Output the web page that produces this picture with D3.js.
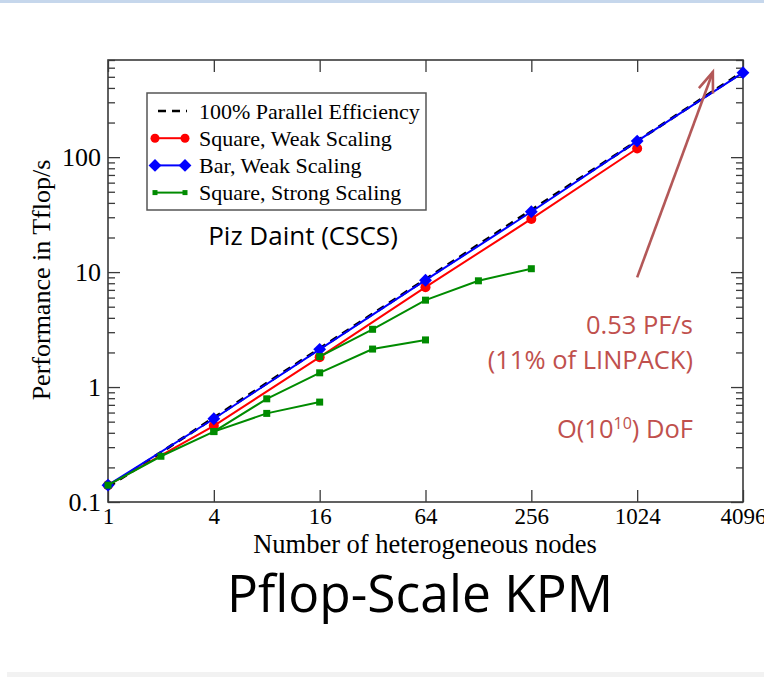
<!DOCTYPE html><head><meta charset = "utf-8">
<title>Pflop-Scale KPM</title>
<style type = "text/css">
* { box-sizing: border-box; }
body { margin: 0; background: white; overflow: hidden; }
svg { display: block; }
</style>
<script type="text/javascript" src="https://cdn.jsdelivr.net/npm/d3@7"></script>
</head><body>
<div class="sketch"></div>
<script type="text/javascript">

// node counts and performance in Tflop/s
var idealNodes = [1, 4096];
var idealPerf = [0.135, 553];

var weakNodes = [1, 4, 16, 64, 256, 1024, 4096];
var barWeakPerf = [0.14, 0.53, 2.13, 8.5, 33.5, 138, 543];
var squareWeakNodes = [1, 4, 16, 64, 256, 1024];
var squareWeakPerf = [0.14, 0.46, 1.82, 7.4, 29, 119];

var strongNodesA = [1, 2, 4, 8, 16];
var strongPerfA = [0.14, 0.25, 0.41, 0.59, 0.74];
var strongNodesB = [4, 8, 16, 32, 64];
var strongPerfB = [0.41, 0.79, 1.33, 2.14, 2.57];
var strongNodesC = [16, 32, 64, 128, 256];
var strongPerfC = [1.84, 3.18, 5.7, 8.4, 10.7];

var xTicks = [1, 4, 16, 64, 256, 1024, 4096];
var yTicks = [0.1, 1, 10, 100];
var yTickLabels = ["0.1", "1", "10", "100"];
var legendLabels = ["100% Parallel Efficiency", "Square, Weak Scaling", "Bar, Weak Scaling", "Square, Strong Scaling"];

// arrow pointing at the largest run (data coordinates)
var arrowFrom = [1024, 9];
var arrowTo = [2760, 550];

var W = 764, H = 677;
var margin = {left: 108, right: 21, top: 60, bottom: 175};
var serif = "'Liberation Serif', 'DejaVu Serif', serif";
var sans = "'Open Sans', 'Noto Sans', sans-serif";
var annotColor = "#c0504d";
var arrowColor = "#b35858";
var green = "#008b00";

var svg = d3.select("div.sketch").append("svg").attr("width", W).attr("height", H);

// thin slide decoration bars
svg.append("rect").attr("x", 0).attr("y", 0).attr("width", W).attr("height", 3).attr("fill", "#c6d7ec");
svg.append("rect").attr("x", 7).attr("y", 672).attr("width", W - 7).attr("height", 5).attr("fill", "#f2f2f2");

var xscale = d3.scaleLog().base(2).domain([1, 4096]).range([margin.left, W - margin.right]);
var yscale = d3.scaleLog().domain([0.1, 700]).range([H - margin.bottom, margin.top]);
var x0 = xscale.range()[0], x1 = xscale.range()[1];
var y0 = yscale.range()[0], y1 = yscale.range()[1];

// minor y ticks
var minor = [];
[0.1, 1, 10, 100].forEach(function(d) {
  for (var k = 2; k <= 9; k++) { if (d * k <= 700) minor.push(d * k); }
});

var axisColor = "#3a3a3a";
function tickStyle(g) {
  g.select(".domain").remove();
  g.selectAll(".tick line").attr("stroke", axisColor).attr("stroke-width", 1.3);
}

// bottom axis
svg.append("g").attr("transform", "translate(0," + y0 + ")")
  .call(d3.axisBottom(xscale).tickValues(xTicks).tickFormat(d3.format("d")).tickSizeInner(-12).tickSizeOuter(0))
  .call(tickStyle)
  .call(function(g) {
    g.selectAll(".tick text").attr("font-family", serif).attr("font-size", 23).attr("fill", "#000").attr("dy", "0.71em").attr("y", 6);
  });
// top axis, ticks only
svg.append("g").attr("transform", "translate(0," + y1 + ")")
  .call(d3.axisTop(xscale).tickValues(xTicks).tickFormat("").tickSizeInner(-12).tickSizeOuter(0))
  .call(tickStyle);
// left axis
svg.append("g").attr("transform", "translate(" + x0 + ",0)")
  .call(d3.axisLeft(yscale).tickValues(yTicks).tickFormat(function(d, i) { return yTickLabels[i]; }).tickSizeInner(-12).tickSizeOuter(0))
  .call(tickStyle)
  .call(function(g) {
    g.selectAll(".tick text").attr("font-family", serif).attr("font-size", 26).attr("fill", "#000").attr("x", -7);
  });
svg.append("g").attr("transform", "translate(" + x0 + ",0)")
  .call(d3.axisLeft(yscale).tickValues(minor).tickFormat("").tickSizeInner(-7).tickSizeOuter(0))
  .call(tickStyle);
// right axis, ticks only
svg.append("g").attr("transform", "translate(" + x1 + ",0)")
  .call(d3.axisRight(yscale).tickValues(yTicks).tickFormat("").tickSizeInner(-12).tickSizeOuter(0))
  .call(tickStyle);
svg.append("g").attr("transform", "translate(" + x1 + ",0)")
  .call(d3.axisRight(yscale).tickValues(minor).tickFormat("").tickSizeInner(-7).tickSizeOuter(0))
  .call(tickStyle);

// frame
svg.append("rect").attr("x", x0).attr("y", y1).attr("width", x1 - x0).attr("height", y0 - y1)
  .attr("fill", "none").attr("stroke", axisColor).attr("stroke-width", 1.6);

// axis titles
svg.append("text").attr("x", 425).attr("y", 553).attr("text-anchor", "middle")
  .attr("font-family", serif).attr("font-size", 26.5).text("Number of heterogeneous nodes");
svg.append("text").attr("transform", "rotate(-90)").attr("x", -280).attr("y", 50).attr("text-anchor", "middle")
  .attr("font-family", serif).attr("font-size", 26).text("Performance in Tflop/s");

var line = d3.line().x(function(d) { return xscale(d[0]); }).y(function(d) { return yscale(d[1]); });
function pairs(xs, ys) { return xs.map(function(x, i) { return [x, ys[i]]; }); }

var plot = svg.append("g");

// ideal scaling
plot.append("path").datum(pairs(idealNodes, idealPerf)).attr("d", line)
  .attr("fill", "none").attr("stroke", "#000").attr("stroke-width", 3).attr("stroke-dasharray", "8,6");

// square weak scaling
var redData = pairs(squareWeakNodes, squareWeakPerf);
plot.append("path").datum(redData).attr("d", line).attr("fill", "none").attr("stroke", "#ff0000").attr("stroke-width", 2);
plot.selectAll("circle.red").data(redData).join("circle").attr("class", "red")
  .attr("cx", function(d) { return xscale(d[0]); }).attr("cy", function(d) { return yscale(d[1]); })
  .attr("r", 5).attr("fill", "#ff0000");

// bar weak scaling
var diamond = d3.symbol().type(d3.symbolDiamond2).size(105);
var blueData = pairs(weakNodes, barWeakPerf);
plot.append("path").datum(blueData).attr("d", line).attr("fill", "none").attr("stroke", "#0000ff").attr("stroke-width", 2);
plot.selectAll("path.blue").data(blueData).join("path").attr("class", "blue")
  .attr("transform", function(d) { return "translate(" + xscale(d[0]) + "," + yscale(d[1]) + ")"; })
  .attr("d", diamond).attr("fill", "#0000ff");

// strong scaling runs
[[strongNodesA, strongPerfA], [strongNodesB, strongPerfB], [strongNodesC, strongPerfC]].forEach(function(s, k) {
  var dat = pairs(s[0], s[1]);
  plot.append("path").datum(dat).attr("d", line).attr("fill", "none").attr("stroke", green).attr("stroke-width", 2);
  plot.selectAll("rect.g" + k).data(dat).join("rect").attr("class", "g" + k)
    .attr("x", function(d) { return xscale(d[0]) - 3.5; }).attr("y", function(d) { return yscale(d[1]) - 3.5; })
    .attr("width", 7).attr("height", 7).attr("fill", green);
});

// legend
var lg = svg.append("g").attr("transform", "translate(147,93)");
lg.append("rect").attr("width", 279).attr("height", 117).attr("fill", "white").attr("stroke", "#555").attr("stroke-width", 1.5);
var rows = lg.selectAll("g.row").data(legendLabels).join("g").attr("class", "row")
  .attr("transform", function(d, i) { return "translate(0," + (18 + i * 27.2) + ")"; });
rows.append("text").attr("x", 52).attr("y", 0).attr("dy", "0.35em")
  .attr("font-family", serif).attr("font-size", 22).text(function(d) { return d; });
rows.each(function(d, i) {
  var r = d3.select(this);
  if (i == 0) {
    r.append("line").attr("x1", 11).attr("x2", 40).attr("stroke", "#000").attr("stroke-width", 2.6).attr("stroke-dasharray", "8,6");
  } else {
    var c = ["#ff0000", "#0000ff", green][i - 1];
    r.append("line").attr("x1", 8).attr("x2", 38).attr("stroke", c).attr("stroke-width", 2);
    [8, 38].forEach(function(px) {
      if (i == 1) r.append("circle").attr("cx", px).attr("r", 4.5).attr("fill", c);
      if (i == 2) r.append("path").attr("transform", "translate(" + px + ",0)").attr("d", diamond).attr("fill", c);
      if (i == 3) r.append("rect").attr("x", px - 2.5).attr("y", -2.5).attr("width", 5).attr("height", 5).attr("fill", c);
    });
  }
});

svg.append("text").attr("x", 303).attr("y", 245).attr("text-anchor", "middle")
  .attr("font-family", sans).attr("font-size", 26).text("Piz Daint (CSCS)");

// annotation arrow
svg.append("defs").append("marker").attr("id", "head").attr("viewBox", "-24 -12 28 24")
  .attr("refX", 0).attr("refY", 0).attr("markerWidth", 28).attr("markerHeight", 24).attr("orient", "auto")
  .attr("markerUnits", "userSpaceOnUse")
  .append("path").attr("d", "M-20,-7.5 L0,0 L-20,7.5").attr("fill", "none").attr("stroke", arrowColor).attr("stroke-width", 2.6);
svg.append("line")
  .attr("x1", xscale(arrowFrom[0])).attr("y1", yscale(arrowFrom[1]))
  .attr("x2", xscale(arrowTo[0])).attr("y2", yscale(arrowTo[1]))
  .attr("stroke", arrowColor).attr("stroke-width", 2.6).attr("marker-end", "url(#head)");

var note = svg.append("g").attr("font-family", sans).attr("font-size", 25.5).attr("fill", annotColor).attr("text-anchor", "end");
note.append("text").attr("x", 693).attr("y", 334).text("0.53 PF/s");
note.append("text").attr("x", 693).attr("y", 369).text("(11% of LINPACK)");
var dof = note.append("text").attr("x", 693).attr("y", 438);
dof.append("tspan").text("O(10");
dof.append("tspan").attr("font-size", 16).attr("dy", -9).text("10");
dof.append("tspan").attr("dy", 9).text(") DoF");

svg.append("text").attr("x", 420).attr("y", 612).attr("text-anchor", "middle")
  .attr("font-family", sans).attr("font-size", 51.5).text("Pflop-Scale KPM");

</script>
</body></html>
